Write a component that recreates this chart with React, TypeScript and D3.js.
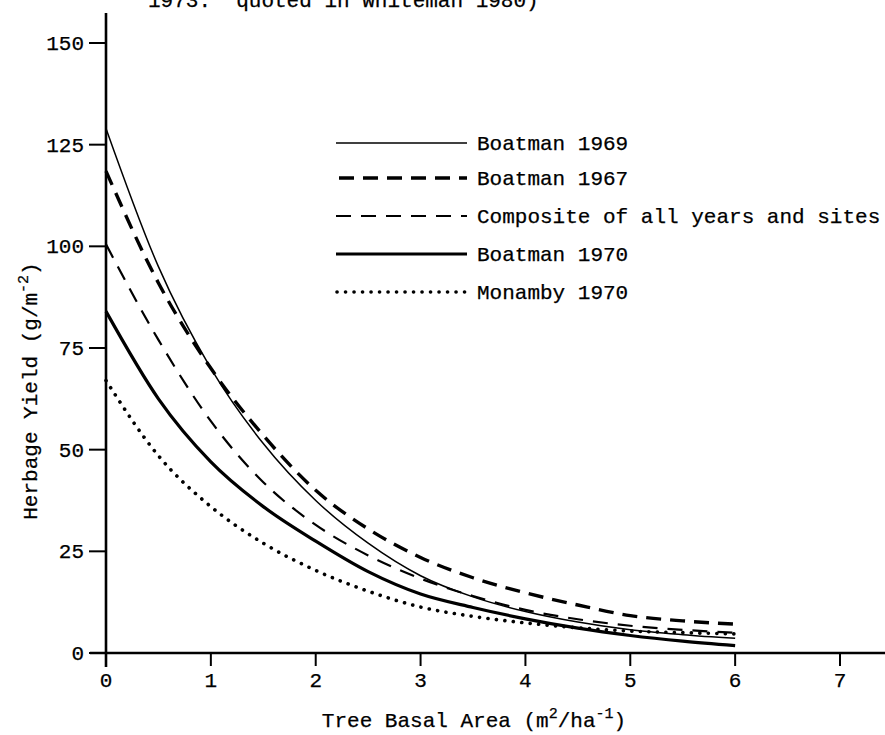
import React from "react";
import * as d3 from "d3";

const basalArea = [0, 0.5, 1, 1.5, 2, 2.5, 3, 3.5, 4, 4.5, 5, 5.5, 6];
const boatman1969 = [129, 95, 70, 51.5, 37.5, 27, 19, 13.8, 10.2, 7.6, 5.7, 4.5, 3.6];
const boatman1967 = [118.5, 91, 70, 53.5, 40, 30.5, 23.5, 18.5, 14.8, 11.8, 9.2, 7.9, 7.1];
const composite = [100.5, 77, 57, 42, 31.5, 24, 18.3, 14, 10.6, 8.3, 6.7, 5.7, 5.0];
const boatman1970 = [84, 62.5, 47, 36, 27.5, 20, 14.5, 11.2, 8.4, 6.1, 4.3, 2.9, 1.8];
const monamby1970 = [67, 48.5, 36, 27, 20.3, 15.2, 11.3, 9, 7.4, 6.2, 5.4, 5.0, 4.7];

const xTicks = [0, 1, 2, 3, 4, 5, 6, 7];
const yTicks = [0, 25, 50, 75, 100, 125, 150];
const legendLabels = [
  "Boatman 1969",
  "Boatman 1967",
  "Composite of all years and sites",
  "Boatman 1970",
  "Monamby 1970",
];
const seriesList = [boatman1969, boatman1967, composite, boatman1970, monamby1970];

const styles = [
  { w: 1.5, dash: undefined as string | undefined, cap: "butt" },
  { w: 3.4, dash: "15,9", cap: "butt" },
  { w: 2.2, dash: "15,10", cap: "butt" },
  { w: 3.2, dash: undefined as string | undefined, cap: "butt" },
  { w: 3.6, dash: "0.1,8.4", cap: "round" },
];

const FONT = "'Liberation Mono', 'DejaVu Sans Mono', monospace";

export default function App() {
  const W = 885;
  const H = 735;
  const x = d3.scaleLinear().domain([0, 7]).range([106, 840]);
  const y = d3.scaleLinear().domain([0, 150]).range([653, 43]);
  const line = d3
    .line<number>()
    .x((_, i) => x(basalArea[i]))
    .y((d) => y(d))
    .curve(d3.curveMonotoneX);

  const legendX2 = 467;
  const legendRowY = [143, 178, 216, 254, 292];
  const legendStartX = [336, 339, 336, 336, 337];
  const textProps = {
    fontFamily: FONT,
    fontSize: 21,
    fill: "#000",
    stroke: "#000",
    strokeWidth: 0.25,
  };

  return (
    <svg
      width={W}
      height={H}
      style={{ position: "absolute", left: 0, top: 0, background: "#fff" }}
    >
      <rect x={0} y={0} width={W} height={H} fill="#fff" />
      <text x={148} y={7} {...textProps} xmlSpace="preserve">
        1973.  quoted in Whiteman 1980)
      </text>

      {/* axes */}
      <line x1={x(0)} x2={x(0)} y1={13} y2={667} stroke="#000" strokeWidth={2.6} />
      <line x1={90} x2={885} y1={y(0)} y2={y(0)} stroke="#000" strokeWidth={2.6} />
      {yTicks.map((t) => (
        <g key={"y" + t}>
          <line x1={89} x2={x(0)} y1={y(t)} y2={y(t)} stroke="#000" strokeWidth={2} />
          <text x={84} y={y(t) + 7} textAnchor="end" {...textProps}>
            {t}
          </text>
        </g>
      ))}
      {xTicks.map((t) => (
        <g key={"x" + t}>
          <line x1={x(t)} x2={x(t)} y1={y(0)} y2={y(0) + 13} stroke="#000" strokeWidth={2} />
          <text x={x(t)} y={687} textAnchor="middle" {...textProps}>
            {t}
          </text>
        </g>
      ))}

      {/* axis titles */}
      <text x={474} y={727} textAnchor="middle" {...textProps}>
        Tree Basal Area (m
        <tspan dy={-9} fontSize={15}>2</tspan>
        <tspan dy={9}>/ha</tspan>
        <tspan dy={-9} fontSize={15}>-1</tspan>
        <tspan dy={9}>)</tspan>
      </text>
      <text
        transform="translate(37,391) rotate(-90)"
        textAnchor="middle"
        {...textProps}
      >
        Herbage Yield (g/m
        <tspan dy={-9} fontSize={15}>-2</tspan>
        <tspan dy={9}>)</tspan>
      </text>

      {/* curves */}
      {seriesList.map((s, i) => (
        <path
          key={"c" + i}
          d={line(s) || ""}
          fill="none"
          stroke="#000"
          strokeWidth={styles[i].w}
          strokeDasharray={styles[i].dash}
          strokeLinecap={styles[i].cap as any}
        />
      ))}

      {/* legend */}
      {legendLabels.map((lab, i) => (
        <g key={"l" + i}>
          <line
            x1={legendStartX[i]}
            x2={legendX2}
            y1={legendRowY[i]}
            y2={legendRowY[i]}
            stroke="#000"
            strokeWidth={styles[i].w}
            strokeDasharray={styles[i].dash}
            strokeLinecap={styles[i].cap as any}
          />
          <text x={legendX2 + 10} y={legendRowY[i] + 7} {...textProps}>
            {lab}
          </text>
        </g>
      ))}
    </svg>
  );
}
